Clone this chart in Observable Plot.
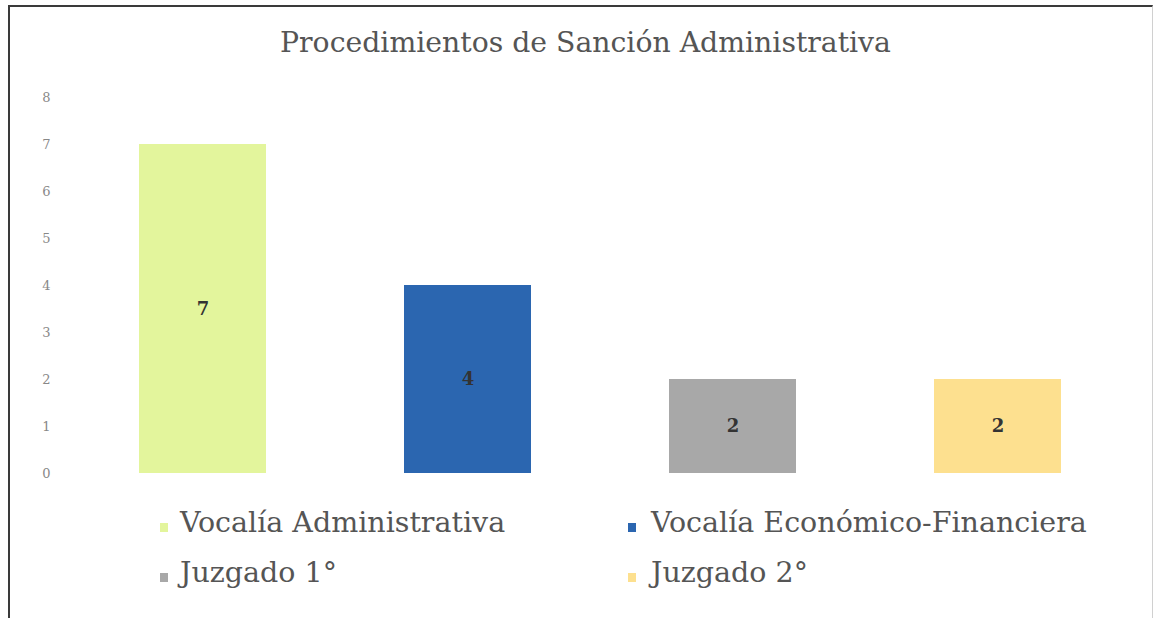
<!DOCTYPE html>
<html>
<head>
<meta charset="utf-8">
<script src="https://cdn.jsdelivr.net/npm/d3@7"></script>
<script src="https://cdn.jsdelivr.net/npm/@observablehq/plot@0.6"></script>
<style>
  html, body { margin: 0; padding: 0; background: #fff; width: 1159px; height: 618px; overflow: hidden; }
  body { position: relative; font-family: "DejaVu Serif", serif; }
  #frame { position: absolute; left: 8px; top: 5px; width: 1142px; height: 640px;
           border-top: 2px solid #3a3a3a; border-left: 2px solid #3a3a3a; border-right: 1px solid #d0d0d0; }
  #title { position: absolute; left: 0; width: 1171px; top: 28px; text-align: center;
           font-size: 28.3px; line-height: 30px; color: #555; }
  #chart { position: absolute; left: 0; top: 80px; }
  .leg { position: absolute; font-size: 28.5px; line-height: 30px; color: #555; white-space: nowrap; }
  .sw { position: absolute; width: 8px; height: 9px; }
</style>
</head>
<body>
<div id="frame"></div>
<div id="title">Procedimientos de Sanción Administrativa</div>
<div id="chart"></div>
<div id="legend"></div>
<script>
const categories = ["Vocalía Administrativa", "Vocalía Económico-Financiera", "Juzgado 1°", "Juzgado 2°"];
const values = [7, 4, 2, 2];
const colors = ["#e3f59c", "#2b66b0", "#a8a8a8", "#fde08f"];
const yTicks = [0, 1, 2, 3, 4, 5, 6, 7, 8];

const data = categories.map((c, i) => ({category: c, value: values[i], color: colors[i]}));

const chart = Plot.plot({
  width: 1159,
  height: 420,
  marginLeft: 70,
  marginRight: 29,
  marginTop: 17,
  marginBottom: 27,
  style: {fontFamily: "DejaVu Serif", background: "transparent"},
  x: {domain: categories, paddingInner: 0.52, paddingOuter: 0.26, axis: null},
  y: {domain: [0, 8], ticks: yTicks, label: null},
  marks: [
    Plot.axisY({ticks: yTicks, tickSize: 0, tickPadding: 20, fontSize: 13, fill: "#888", label: null, tickFormat: d => String(d)}),
    Plot.barY(data, {x: "category", y: "value", fill: "color"}),
    Plot.text(data, {x: "category", y: d => d.value / 2, text: d => String(d.value), fill: "#333", fontSize: 18, fontWeight: "bold"})
  ]
});
document.getElementById("chart").appendChild(chart);

const legendPos = [
  {sx: 160, tx: 180, top: 508},
  {sx: 628, tx: 651, top: 508},
  {sx: 160, tx: 180, top: 558},
  {sx: 628, tx: 651, top: 558}
];
const legend = document.getElementById("legend");
categories.forEach((c, i) => {
  const p = legendPos[i];
  const sw = document.createElement("div");
  sw.className = "sw";
  sw.style.left = p.sx + "px";
  sw.style.top = (p.top + 15) + "px";
  sw.style.background = colors[i];
  legend.appendChild(sw);
  const t = document.createElement("div");
  t.className = "leg";
  t.style.left = p.tx + "px";
  t.style.top = p.top + "px";
  t.textContent = c;
  legend.appendChild(t);
});
</script>
</body>
</html>
